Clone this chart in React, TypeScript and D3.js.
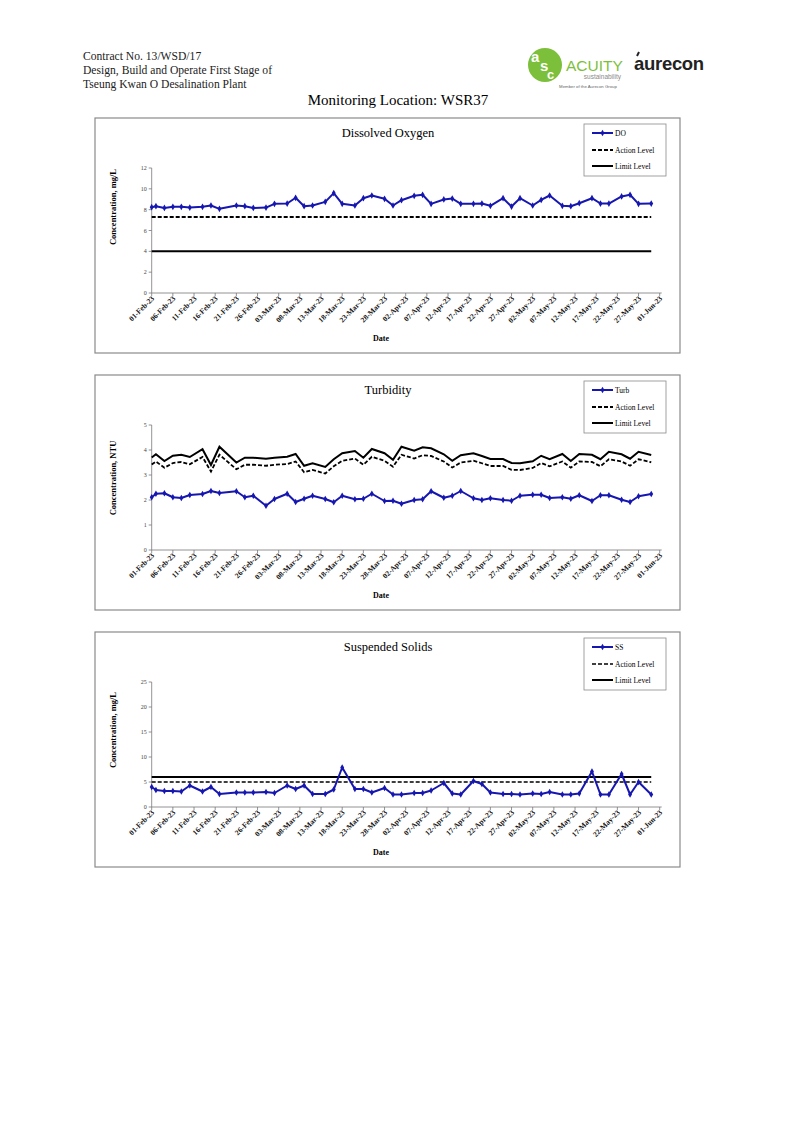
import React from "react";
import * as d3 from "d3";

// ---------- DATA ----------
const sampleDates = [
  "2023-02-01", "2023-02-02", "2023-02-04", "2023-02-06", "2023-02-08", "2023-02-10",
  "2023-02-13", "2023-02-15", "2023-02-17", "2023-02-21", "2023-02-23", "2023-02-25",
  "2023-02-28", "2023-03-02", "2023-03-05", "2023-03-07", "2023-03-09", "2023-03-11",
  "2023-03-14", "2023-03-16", "2023-03-18", "2023-03-21", "2023-03-23", "2023-03-25",
  "2023-03-28", "2023-03-30", "2023-04-01", "2023-04-04", "2023-04-06", "2023-04-08",
  "2023-04-11", "2023-04-13", "2023-04-15", "2023-04-18", "2023-04-20", "2023-04-22",
  "2023-04-25", "2023-04-27", "2023-04-29", "2023-05-02", "2023-05-04", "2023-05-06",
  "2023-05-09", "2023-05-11", "2023-05-13", "2023-05-16", "2023-05-18", "2023-05-20",
  "2023-05-23", "2023-05-25", "2023-05-27", "2023-05-30",
];

const doValues = [
  8.24, 8.33, 8.17, 8.27, 8.27, 8.2, 8.27, 8.4, 8.08, 8.4,
  8.33, 8.17, 8.2, 8.56, 8.59, 9.14, 8.33, 8.4, 8.75, 9.59,
  8.56, 8.4, 9.1, 9.36, 9.04, 8.4, 8.91, 9.33, 9.43, 8.56,
  8.98, 9.07, 8.56, 8.56, 8.59, 8.37, 9.1, 8.3, 9.1, 8.4,
  8.94, 9.36, 8.37, 8.33, 8.62, 9.1, 8.59, 8.59, 9.27, 9.43,
  8.56, 8.59,
];
const doActionLevel = 7.3;
const doLimitLevel = 4;

const turbValues = [
  2.11, 2.25, 2.27, 2.11, 2.08, 2.2, 2.24, 2.36, 2.28, 2.35,
  2.11, 2.17, 1.77, 2.04, 2.25, 1.92, 2.05, 2.17, 2.04, 1.91,
  2.17, 2.03, 2.05, 2.25, 1.96, 1.97, 1.85, 2.0, 2.03, 2.35,
  2.09, 2.17, 2.36, 2.07, 2.0, 2.07, 2.0, 1.97, 2.17, 2.21,
  2.21, 2.08, 2.11, 2.05, 2.19, 1.96, 2.19, 2.19, 2.01, 1.92,
  2.15, 2.24,
];
const turbAction = [
  3.42, 3.54, 3.29, 3.48, 3.52, 3.43, 3.72, 3.14, 3.81, 3.23,
  3.41, 3.41, 3.37, 3.41, 3.44, 3.54, 3.11, 3.2, 3.06, 3.35,
  3.57, 3.66, 3.41, 3.73, 3.57, 3.33, 3.81, 3.66, 3.79, 3.76,
  3.54, 3.3, 3.5, 3.57, 3.47, 3.36, 3.36, 3.21, 3.2, 3.28,
  3.48, 3.35, 3.54, 3.29, 3.54, 3.52, 3.35, 3.63, 3.54, 3.37,
  3.63, 3.51,
];
const turbLimit = [
  3.7, 3.83, 3.56, 3.77, 3.81, 3.72, 4.03, 3.4, 4.13, 3.5,
  3.69, 3.69, 3.65, 3.69, 3.73, 3.84, 3.37, 3.47, 3.32, 3.63,
  3.87, 3.96, 3.69, 4.04, 3.87, 3.61, 4.13, 3.97, 4.11, 4.07,
  3.83, 3.57, 3.79, 3.87, 3.76, 3.64, 3.64, 3.48, 3.47, 3.55,
  3.77, 3.63, 3.84, 3.56, 3.84, 3.81, 3.63, 3.93, 3.83, 3.65,
  3.93, 3.8,
];

const ssValues = [
  4.0, 3.4, 3.2, 3.2, 3.1, 4.3, 3.1, 4.0, 2.6, 2.9,
  2.9, 2.9, 3.0, 2.8, 4.3, 3.6, 4.3, 2.6, 2.6, 3.5,
  7.9, 3.6, 3.6, 2.9, 3.8, 2.5, 2.5, 2.8, 2.8, 3.3,
  4.8, 2.7, 2.5, 5.2, 4.6, 2.9, 2.6, 2.6, 2.5, 2.7,
  2.6, 3.0, 2.5, 2.5, 2.7, 7.1, 2.5, 2.5, 6.6, 2.5,
  5.0, 2.5,
];
const ssActionLevel = 5;
const ssLimitLevel = 6;

const xTickLabels = [
  "01-Feb-23", "06-Feb-23", "11-Feb-23", "16-Feb-23", "21-Feb-23", "26-Feb-23",
  "03-Mar-23", "08-Mar-23", "13-Mar-23", "18-Mar-23", "23-Mar-23", "28-Mar-23",
  "02-Apr-23", "07-Apr-23", "12-Apr-23", "17-Apr-23", "22-Apr-23", "27-Apr-23",
  "02-May-23", "07-May-23", "12-May-23", "17-May-23", "22-May-23", "27-May-23",
  "01-Jun-23",
];

const headerLines = [
  "Contract No. 13/WSD/17",
  "Design, Build and Operate First Stage of",
  "Tseung Kwan O Desalination Plant",
];

// ---------- HELPERS ----------
const parseISO = d3.timeParse("%Y-%m-%d");
const parseTick = d3.timeParse("%d-%b-%y");
const dates = sampleDates.map((s) => parseISO(s) as Date);
const tickDates = xTickLabels.map((s) => parseTick(s) as Date);

const SERIF = "'Liberation Serif', 'Times New Roman', serif";
const SANS = "'Liberation Sans', Arial, sans-serif";
const BLUE = "#1616b0";

type ChartProps = {
  top: number;
  title: string;
  yLabel: string;
  yLabelCenter: number;
  yMax: number;
  yStep: number;
  seriesName: string;
  values: number[];
  action: number | number[];
  limit: number | number[];
  actionWidth: number;
  limitWidth: number;
};

function Chart(p: ChartProps) {
  const boxX = 95;
  const boxW = 585;
  const boxH = 235;
  const plotTop = p.top + 50;
  const plotBottom = p.top + 175;
  const x = d3
    .scaleTime()
    .domain([tickDates[0], tickDates[tickDates.length - 1]])
    .range([151.7, 659.7]);
  const y = d3.scaleLinear().domain([0, p.yMax]).range([plotBottom, plotTop]);
  const yTicks = d3.range(0, p.yMax + p.yStep / 2, p.yStep);

  const line = d3
    .line<number>()
    .x((_, i) => x(dates[i]))
    .y((v) => y(v));

  const actionArr = Array.isArray(p.action) ? p.action : dates.map(() => p.action as number);
  const limitArr = Array.isArray(p.limit) ? p.limit : dates.map(() => p.limit as number);
  const diamond = d3.symbol().type(d3.symbolDiamond).size(13)() as string;

  const legX = 584;
  const legY = p.top + 6;

  return (
    <g>
      <rect x={boxX} y={p.top} width={boxW} height={boxH} fill="#fff" stroke="#8a8a8a" strokeWidth={1.2} />
      <text x={388} y={p.top + 19} textAnchor="middle" fontFamily={SERIF} fontSize={12.5}>
        {p.title}
      </text>

      {/* Y axis */}
      <line x1={x.range()[0]} x2={x.range()[0]} y1={plotTop} y2={plotBottom} stroke="#777" strokeWidth={0.8} />
      {yTicks.map((t) => (
        <g key={t}>
          <line x1={x.range()[0] - 3} x2={x.range()[0]} y1={y(t)} y2={y(t)} stroke="#777" strokeWidth={0.8} />
          <text x={x.range()[0] - 5} y={y(t) + 2} textAnchor="end" fontFamily={SERIF} fontSize={6} fill="#444">
            {t}
          </text>
        </g>
      ))}
      <text
        transform={`translate(116,${p.yLabelCenter}) rotate(-90)`}
        textAnchor="middle"
        fontFamily={SERIF}
        fontSize={8.5}
        fontWeight="bold"
      >
        {p.yLabel}
      </text>

      {/* X axis */}
      <line x1={x.range()[0]} x2={x.range()[1] + 2} y1={plotBottom} y2={plotBottom} stroke="#777" strokeWidth={0.8} />
      {tickDates.map((d, i) => (
        <g key={i}>
          <line x1={x(d)} x2={x(d)} y1={plotBottom} y2={plotBottom + 3} stroke="#777" strokeWidth={0.8} />
          <text
            transform={`translate(${x(d) + 3},${plotBottom + 6}) rotate(-45)`}
            textAnchor="end"
            fontFamily={SERIF}
            fontSize={7.5}
            fontWeight="bold"
            fill="#111"
          >
            {xTickLabels[i]}
          </text>
        </g>
      ))}
      <text x={381} y={p.top + 223} textAnchor="middle" fontFamily={SERIF} fontSize={8} fontWeight="bold">
        Date
      </text>

      {/* Level lines */}
      <path d={line(limitArr) as string} fill="none" stroke="#000" strokeWidth={p.limitWidth} />
      <path
        d={line(actionArr) as string}
        fill="none"
        stroke="#000"
        strokeWidth={p.actionWidth}
        strokeDasharray="4,2"
      />

      {/* Series */}
      <path d={line(p.values) as string} fill="none" stroke={BLUE} strokeWidth={2} strokeLinejoin="round" />
      {p.values.map((v, i) => (
        <path key={i} d={diamond} transform={`translate(${x(dates[i])},${y(v)})`} fill={BLUE} />
      ))}

      {/* Legend */}
      <rect x={legX} y={legY} width={82} height={52} fill="#fff" stroke="#8a8a8a" strokeWidth={0.8} />
      <line x1={legX + 8} x2={legX + 29} y1={legY + 9} y2={legY + 9} stroke={BLUE} strokeWidth={2} />
      <path d={diamond} transform={`translate(${legX + 18.5},${legY + 9})`} fill={BLUE} />
      <text x={legX + 31} y={legY + 11.5} fontFamily={SERIF} fontSize={7.5}>
        {p.seriesName}
      </text>
      <line
        x1={legX + 8}
        x2={legX + 29}
        y1={legY + 26}
        y2={legY + 26}
        stroke="#000"
        strokeWidth={p.actionWidth}
        strokeDasharray="4,2"
      />
      <text x={legX + 31} y={legY + 28.5} fontFamily={SERIF} fontSize={7.5}>
        Action Level
      </text>
      <line x1={legX + 8} x2={legX + 29} y1={legY + 42} y2={legY + 42} stroke="#000" strokeWidth={2} />
      <text x={legX + 31} y={legY + 44.5} fontFamily={SERIF} fontSize={7.5}>
        Limit Level
      </text>
    </g>
  );
}

export default function App() {
  return (
    <svg
      width={794}
      height={1122}
      style={{ position: "absolute", left: 0, top: 0, background: "#fff" }}
      xmlns="http://www.w3.org/2000/svg"
    >
      <rect x={0} y={0} width={794} height={1122} fill="#fff" />
      {/* Header */}
      {headerLines.map((t, i) => (
        <text key={i} x={83} y={60 + i * 14} fontFamily={SERIF} fontSize={11.6} fill="#222">
          {t}
        </text>
      ))}

      {/* Acuity logo */}
      <circle cx={545} cy={65} r={17} fill="#7cbf3a" />
      <text x={531} y={62} fontFamily={SANS} fontSize={15} fill="#fff" fontWeight="bold">a</text>
      <text x={540} y={71} fontFamily={SANS} fontSize={15} fill="#fff" fontWeight="bold">s</text>
      <text x={547} y={79} fontFamily={SANS} fontSize={13} fill="#fff" fontWeight="bold">c</text>
      <text x={566} y={71} fontFamily={SANS} fontSize={15.5} fill="#7cbf3a">ACUITY</text>
      <text x={621} y={79} textAnchor="end" fontFamily={SANS} fontSize={6.5} fill="#8a8a8a">sustainability</text>
      <text x={588} y={88} textAnchor="middle" fontFamily={SANS} fontSize={4.3} fill="#666">
        Member of the Aurecon Group
      </text>
      {/* aurecon logo */}
      <text x={634} y={70} fontFamily={SANS} fontSize={18.5} fontWeight="bold" fill="#222" letterSpacing={-0.3}>
        aurecon
      </text>
      <line x1={637} y1={56} x2={639} y2={52} stroke="#222" strokeWidth={2} />

      <text x={398} y={105} textAnchor="middle" fontFamily={SERIF} fontSize={15}>
        Monitoring Location: WSR37
      </text>

      <Chart
        top={118}
        title="Dissolved Oxygen"
        yLabel="Concentration, mg/L"
        yLabelCenter={207}
        yMax={12}
        yStep={2}
        seriesName="DO"
        values={doValues}
        action={doActionLevel}
        limit={doLimitLevel}
        actionWidth={2}
        limitWidth={2}
      />
      <Chart
        top={375}
        title="Turbidity"
        yLabel="Concentration, NTU"
        yLabelCenter={478}
        yMax={5}
        yStep={1}
        seriesName="Turb"
        values={turbValues}
        action={turbAction}
        limit={turbLimit}
        actionWidth={1.8}
        limitWidth={2}
      />
      <Chart
        top={632}
        title="Suspended Solids"
        yLabel="Concentration, mg/L"
        yLabelCenter={730}
        yMax={25}
        yStep={5}
        seriesName="SS"
        values={ssValues}
        action={ssActionLevel}
        limit={ssLimitLevel}
        actionWidth={1.4}
        limitWidth={2}
      />
    </svg>
  );
}
